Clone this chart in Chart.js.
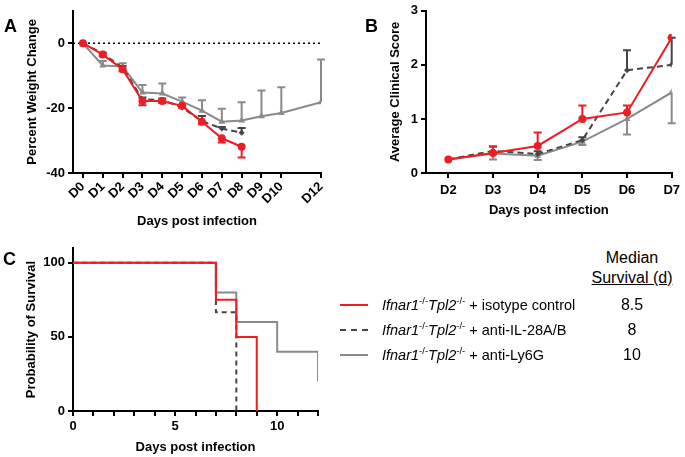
<!DOCTYPE html>
<html>
<head>
<meta charset="utf-8">
<script src="https://cdn.jsdelivr.net/npm/chart.js@4.4.0/dist/chart.umd.min.js"></script>
<style>
  body { margin: 0; background: #fff; width: 685px; height: 457px; position: relative; overflow: hidden;
         font-family: 'Liberation Sans', Arial, sans-serif; color: #000; }
  .panel { position: absolute; }
  .letter { position: absolute; font-weight: bold; font-size: 18px; line-height: 18px; }
  .row { position: absolute; left: 340px; height: 20px; white-space: nowrap; font-size: 14.5px; line-height: 20px; }
  .row .sample { position: absolute; left: 0; top: 9px; width: 28px; height: 0; }
  .row .label { position: absolute; left: 42px; top: 0; }
  .row sup { font-size: 9.5px; line-height: 0; }
  .med { position: absolute; left: 582px; width: 100px; text-align: center; font-size: 16px; line-height: 20px; white-space: nowrap; }
</style>
</head>
<body>
<div class="panel" style="left:0;top:0;width:340px;height:235px"><canvas id="chartA"></canvas></div>
<div class="panel" style="left:340px;top:0;width:345px;height:220px"><canvas id="chartB"></canvas></div>
<div class="panel" style="left:0;top:215px;width:330px;height:242px"><canvas id="chartC"></canvas></div>
<div class="letter" style="left:4px;top:17px">A</div>
<div class="letter" style="left:365px;top:17px">B</div>
<div class="letter" style="left:3px;top:250px">C</div>
<div id="legend"></div>

<script>
// Panel A - percent weight change
const weightDays = [0, 1, 2, 3, 4, 5, 6, 7, 8, 9, 10, 12];
const weightIso = [0, -3.5, -8, -17.8, -17.8, -19.3, -24.2, -29.3, -31.9];
const weightIsoErr = [0, 0.5, 0.6, 1.3, 0.6, 0.6, 0.8, 1.3, 3.3];
const weightIl28 = [0, -3.2, -7.5, -17.3, -17.5, -19.8, -24, -26.3, -27.6];
const weightIl28Err = [0, 0.3, 0.5, 0.6, 0.5, 0.6, 1.6, 0.5, 1.5];
const weightLy6g = [0, -6.9, -7.2, -15.2, -15.5, -18, -20.8, -24.2, -23.8, -22.5, -21.5, -18.2];
const weightLy6gErr = [0, 1.4, 1, 2.3, 3.1, 1.3, 3.2, 4, 5.6, 7.9, 7.9, 13.2];
const weightYTicks = [-40, -20, 0];

// Panel B - clinical score
const scoreDays = [2, 3, 4, 5, 6, 7];
const scoreIso = [0.25, 0.37, 0.5, 1.0, 1.12, 2.5];
const scoreIsoErr = [0, 0.12, 0.25, 0.25, 0.13, 0];
const scoreIl28 = [0.25, 0.41, 0.35, 0.61, 1.9, 2.0];
const scoreIl28Err = [0, 0.08, 0.05, 0.05, 0.37, 0.5];
const scoreLy6g = [0.25, 0.36, 0.32, 0.58, 1.0, 1.49];
const scoreLy6gErr = [0, 0.11, 0.08, 0.06, 0.29, 0.57];

// Panel C - survival
const survIsoDays = [0, 7, 8, 9];
const survIso = [100, 75, 50, 0];
const survIl28Days = [0, 7, 8];
const survIl28 = [100, 66.7, 0];
const survLy6gDays = [0, 7, 8, 10, 12];
const survLy6g = [100, 80, 60, 40, 20];
const survYTicks = [0, 50, 100];

const groupNames = ['isotype control', 'anti-IL-28A/B', 'anti-Ly6G'];
const medianSurvival = ['8.5', '8', '10'];

const RED = '#ee1c24';
const DARK = '#454545';
const GREY = '#8a8a8a';

Chart.defaults.font.family = "'Liberation Sans', Arial, sans-serif";
Chart.defaults.font.weight = 'bold';
Chart.defaults.color = '#000';
Chart.defaults.animation = false;
Chart.defaults.responsive = true;
Chart.defaults.maintainAspectRatio = false;
Chart.defaults.plugins.legend.display = false;
Chart.defaults.plugins.tooltip.enabled = false;

const toPoints = (xs, ys) => ys.map((v, i) => ({ x: xs[i], y: v }));

// error bars drawn before each dataset so markers sit on top
const errorBars = {
  id: 'errorBars',
  beforeDatasetDraw(chart, args) {
    const ds = chart.data.datasets[args.index];
    if (!ds.err) return;
    const yScale = chart.scales.y;
    const ctx = chart.ctx;
    ctx.save();
    ctx.strokeStyle = ds.borderColor;
    ctx.lineWidth = 2;
    args.meta.data.forEach((pt, i) => {
      const e = ds.err[i];
      if (!e) return;
      const yEnd = yScale.getPixelForValue(ds.data[i].y + ds.errDir * e);
      ctx.beginPath();
      ctx.moveTo(pt.x, pt.y);
      ctx.lineTo(pt.x, yEnd);
      ctx.moveTo(pt.x - 4, yEnd);
      ctx.lineTo(pt.x + 4, yEnd);
      ctx.stroke();
    });
    ctx.restore();
  }
};

const zeroLine = {
  id: 'zeroLine',
  beforeDatasetsDraw(chart) {
    const { ctx, chartArea } = chart;
    const y = chart.scales.y.getPixelForValue(0);
    ctx.save();
    ctx.strokeStyle = '#000';
    ctx.lineWidth = 1.5;
    ctx.setLineDash([2, 3]);
    ctx.beginPath();
    ctx.moveTo(chartArea.left, y);
    ctx.lineTo(chartArea.right, y);
    ctx.stroke();
    ctx.restore();
  }
};

function axis(opts) {
  return Object.assign({
    type: 'linear',
    border: { color: '#000', width: 2 },
    grid: { drawOnChartArea: false, color: '#000', lineWidth: 2, tickLength: 5 },
  }, opts);
}

function series(color, pts, style, err, errDir, dashed) {
  return {
    data: pts,
    borderColor: color,
    backgroundColor: color,
    borderWidth: 2,
    borderDash: dashed ? [6, 4] : [],
    pointStyle: style,
    pointRadius: style === 'rectRot' ? 3 : 4,
    pointBorderWidth: 0,
    err: err,
    errDir: errDir
  };
}

// Panel A
new Chart(document.getElementById('chartA'), {
  type: 'line',
  data: {
    datasets: [
      series(RED, toPoints(weightDays, weightIso), 'circle', weightIsoErr, -1, false),
      series(DARK, toPoints(weightDays, weightIl28), 'rectRot', weightIl28Err, 1, true),
      series(GREY, toPoints(weightDays, weightLy6g), 'triangle', weightLy6gErr, 1, false)
    ]
  },
  options: {
    layout: { padding: { left: 0, top: 8, right: 19, bottom: 0 } },
    scales: {
      x: axis({
        min: -0.5, max: 12,
        afterBuildTicks: s => { s.ticks = weightDays.map(v => ({ value: v })); },
        afterFit: s => { s.height = 62; },
        ticks: { font: { size: 13 }, autoSkip: false, minRotation: 45, maxRotation: 45, padding: 1,
                 callback: v => 'D' + v },
        title: { display: true, text: 'Days post infection', font: { size: 13 }, padding: { bottom: 5.5 } }
      }),
      y: axis({
        min: -40, max: 10,
        afterBuildTicks: s => { s.ticks = weightYTicks.map(v => ({ value: v })); },
        afterFit: s => { s.width = 73; },
        ticks: { font: { size: 13 }, padding: 3 },
        title: { display: true, text: 'Percent Weight Change', font: { size: 13 }, padding: { top: 25 } }
      })
    }
  },
  plugins: [errorBars, zeroLine]
});

// Panel B
new Chart(document.getElementById('chartB'), {
  type: 'line',
  data: {
    datasets: [
      series(RED, toPoints(scoreDays, scoreIso), 'circle', scoreIsoErr, 1, false),
      series(DARK, toPoints(scoreDays, scoreIl28), 'rectRot', scoreIl28Err, 1, true),
      series(GREY, toPoints(scoreDays, scoreLy6g), 'triangle', scoreLy6gErr, -1, false)
    ]
  },
  options: {
    layout: { padding: { left: 0, top: 7, right: 11, bottom: 0 } },
    scales: {
      x: axis({
        min: 1.5, max: 7,
        afterBuildTicks: s => { s.ticks = scoreDays.map(v => ({ value: v })); },
        afterFit: s => { s.height = 47; },
        ticks: { font: { size: 13 }, maxRotation: 0, padding: 5, callback: v => 'D' + v },
        title: { display: true, text: 'Days post infection', font: { size: 13 }, padding: { bottom: 2 } }
      }),
      y: axis({
        min: 0, max: 3,
        ticks: { stepSize: 1, font: { size: 13 }, padding: 3 },
        afterFit: s => { s.width = 86; },
        title: { display: true, text: 'Average Clinical Score', font: { size: 13 }, padding: { top: 48 } }
      })
    }
  },
  plugins: [errorBars]
});

// Panel C
function stepSeries(color, pts, dashed) {
  return {
    data: pts,
    borderColor: color,
    borderWidth: 2,
    borderDash: dashed ? [5, 4] : [],
    stepped: 'before',
    pointRadius: 0
  };
}

new Chart(document.getElementById('chartC'), {
  type: 'line',
  data: {
    datasets: [
      stepSeries(RED, toPoints(survIsoDays, survIso), false),
      stepSeries(DARK, toPoints(survIl28Days, survIl28), true),
      stepSeries(GREY, toPoints(survLy6gDays, survLy6g), false)
    ]
  },
  options: {
    layout: { padding: { left: 0, top: 33, right: 12, bottom: 0 } },
    scales: {
      x: axis({
        min: 0, max: 12,
        ticks: { stepSize: 1, autoSkip: false, maxRotation: 0, font: { size: 13 }, padding: 3,
                 callback: v => (v % 5 === 0 ? v : '') },
        afterFit: s => { s.height = 46; },
        title: { display: true, text: 'Days post infection', font: { size: 13 }, padding: { bottom: 2 } }
      }),
      y: axis({
        min: 0, max: 110,
        afterBuildTicks: s => { s.ticks = survYTicks.map(v => ({ value: v })); },
        afterFit: s => { s.width = 73; },
        ticks: { font: { size: 13 }, padding: 3 },
        title: { display: true, text: 'Probability of Survival', font: { size: 13 }, padding: { top: 24 } }
      })
    }
  }
});

// legend + median survival column
const legendColors = [RED, DARK, GREY];
const legendStyles = ['solid', 'dashed', 'solid'];
let html = '<div class="med" style="top:248px">Median</div>' +
           '<div class="med" style="top:268px"><u>Survival (d)</u></div>';
groupNames.forEach((name, i) => {
  const top = 295 + i * 25;
  html += '<div class="row" style="top:' + top + 'px">' +
          '<div class="sample" style="border-top:2px ' + legendStyles[i] + ' ' + legendColors[i] + '"></div>' +
          '<div class="label"><i>Ifnar1</i><sup>-/-</sup><i>Tpl2</i><sup>-/-</sup> + ' + name + '</div></div>' +
          '<div class="med" style="top:' + top + 'px">' + medianSurvival[i] + '</div>';
});
document.getElementById('legend').innerHTML = html;
</script>
</body>
</html>
